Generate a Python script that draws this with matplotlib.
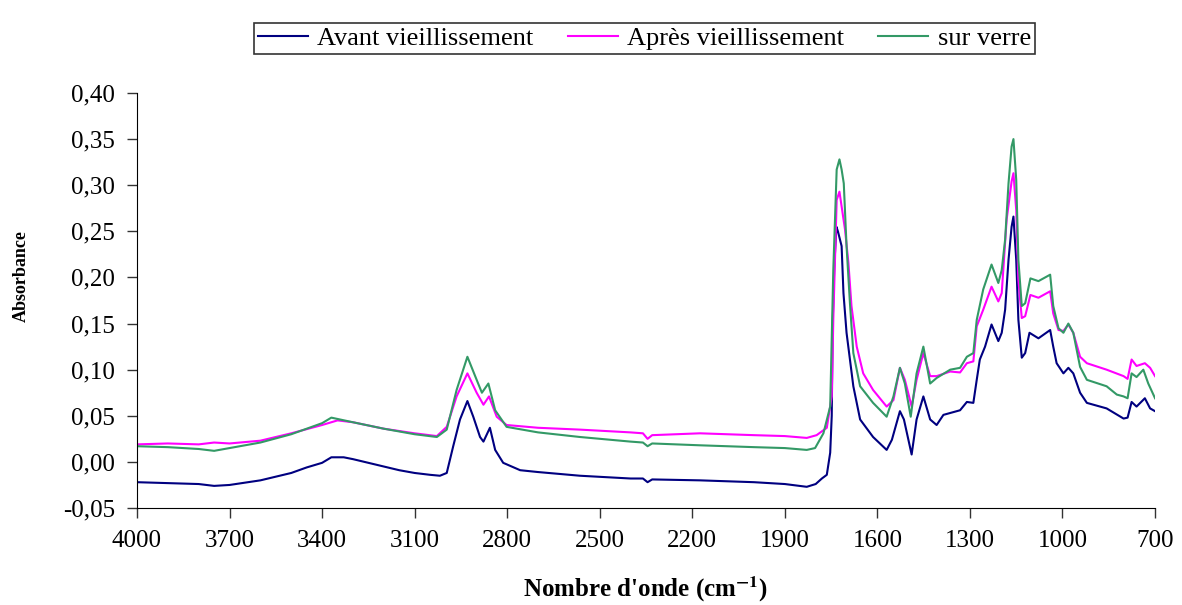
import matplotlib
matplotlib.use("Agg")
import matplotlib.pyplot as plt
from matplotlib.ticker import FuncFormatter

plt.rcParams['font.family'] = ['Liberation Serif', 'DejaVu Serif']
plt.rcParams['mathtext.fontset'] = 'stix'

# (wavenumber cm-1, absorbance)
avant = [
    (4000, -0.022), (3900, -0.023), (3800, -0.024), (3750, -0.026), (3700, -0.025),
    (3600, -0.020), (3500, -0.012), (3450, -0.006), (3400, -0.001), (3370, 0.005),
    (3330, 0.005), (3300, 0.003), (3250, -0.001), (3200, -0.005), (3150, -0.009),
    (3100, -0.012), (3050, -0.014), (3018, -0.015), (2996, -0.012), (2975, 0.017),
    (2953, 0.046), (2929, 0.066), (2910, 0.049), (2888, 0.027), (2877, 0.022),
    (2856, 0.037), (2839, 0.013), (2813, -0.001), (2758, -0.009), (2700, -0.011),
    (2564, -0.015), (2400, -0.018), (2360, -0.018), (2345, -0.022), (2330, -0.019),
    (2175, -0.020), (2000, -0.022), (1900, -0.024), (1829, -0.027), (1800, -0.024),
    (1780, -0.018), (1764, -0.014), (1753, 0.010), (1748, 0.050), (1745, 0.150),
    (1740, 0.210), (1733, 0.255), (1728, 0.250), (1716, 0.234), (1710, 0.183),
    (1700, 0.140), (1678, 0.082), (1656, 0.046), (1614, 0.027), (1570, 0.013),
    (1553, 0.024), (1527, 0.055), (1514, 0.046), (1489, 0.008), (1473, 0.046),
    (1451, 0.071), (1429, 0.046), (1408, 0.040), (1386, 0.051), (1332, 0.056),
    (1310, 0.065), (1289, 0.064), (1278, 0.089), (1268, 0.111), (1251, 0.125),
    (1230, 0.149), (1208, 0.131), (1197, 0.140), (1186, 0.165), (1175, 0.219),
    (1165, 0.255), (1159, 0.266), (1150, 0.219), (1143, 0.154), (1132, 0.113),
    (1121, 0.118), (1107, 0.140), (1078, 0.134), (1040, 0.143), (1030, 0.125),
    (1019, 0.107), (997, 0.096), (981, 0.102), (965, 0.096), (943, 0.075),
    (921, 0.064), (857, 0.058), (802, 0.047), (789, 0.048), (776, 0.065),
    (760, 0.060), (733, 0.069), (716, 0.058), (700, 0.055),
]

apres = [
    (4000, 0.019), (3900, 0.020), (3800, 0.019), (3750, 0.021), (3700, 0.020),
    (3600, 0.023), (3500, 0.031), (3400, 0.040), (3350, 0.045), (3300, 0.043),
    (3200, 0.036), (3100, 0.031), (3028, 0.028), (2996, 0.038), (2964, 0.071),
    (2929, 0.096), (2899, 0.075), (2877, 0.062), (2859, 0.071), (2834, 0.049),
    (2802, 0.040), (2700, 0.037), (2564, 0.035), (2400, 0.032), (2360, 0.031),
    (2345, 0.025), (2330, 0.029), (2175, 0.031), (2000, 0.029), (1900, 0.028),
    (1829, 0.026), (1797, 0.029), (1764, 0.037), (1748, 0.071), (1743, 0.154),
    (1732, 0.284), (1723, 0.293), (1716, 0.277), (1705, 0.252), (1694, 0.216),
    (1684, 0.169), (1667, 0.125), (1646, 0.096), (1614, 0.078), (1570, 0.060),
    (1548, 0.067), (1527, 0.102), (1511, 0.089), (1489, 0.060), (1473, 0.089),
    (1451, 0.118), (1429, 0.093), (1408, 0.093), (1364, 0.098), (1332, 0.097),
    (1310, 0.107), (1289, 0.109), (1278, 0.147), (1257, 0.165), (1230, 0.190),
    (1208, 0.174), (1197, 0.183), (1181, 0.263), (1165, 0.304), (1159, 0.313),
    (1150, 0.273), (1143, 0.197), (1132, 0.156), (1121, 0.158), (1104, 0.181),
    (1078, 0.178), (1040, 0.185), (1030, 0.161), (1013, 0.143), (997, 0.142),
    (981, 0.149), (965, 0.140), (943, 0.114), (921, 0.107), (857, 0.100),
    (802, 0.093), (789, 0.090), (776, 0.111), (760, 0.104), (733, 0.107),
    (716, 0.102), (700, 0.093),
]

verre = [
    (4000, 0.017), (3900, 0.016), (3800, 0.014), (3750, 0.012), (3700, 0.015),
    (3600, 0.021), (3500, 0.030), (3400, 0.042), (3370, 0.048), (3300, 0.043),
    (3200, 0.036), (3100, 0.030), (3028, 0.027), (2996, 0.035), (2964, 0.078),
    (2929, 0.114), (2899, 0.089), (2882, 0.075), (2861, 0.085), (2839, 0.056),
    (2802, 0.038), (2700, 0.032), (2564, 0.027), (2400, 0.022), (2360, 0.021),
    (2345, 0.017), (2330, 0.020), (2175, 0.018), (2000, 0.016), (1900, 0.015),
    (1829, 0.013), (1802, 0.015), (1775, 0.031), (1753, 0.060), (1743, 0.208),
    (1732, 0.317), (1723, 0.328), (1716, 0.317), (1709, 0.302), (1700, 0.234),
    (1689, 0.172), (1678, 0.118), (1656, 0.082), (1614, 0.064), (1570, 0.049),
    (1548, 0.071), (1527, 0.102), (1511, 0.085), (1492, 0.049), (1473, 0.096),
    (1451, 0.125), (1429, 0.085), (1408, 0.091), (1364, 0.100), (1332, 0.102),
    (1310, 0.114), (1289, 0.118), (1278, 0.154), (1257, 0.187), (1230, 0.214),
    (1208, 0.194), (1197, 0.208), (1186, 0.241), (1175, 0.302), (1165, 0.342),
    (1159, 0.350), (1150, 0.306), (1143, 0.219), (1132, 0.169), (1121, 0.172),
    (1104, 0.199), (1078, 0.196), (1040, 0.203), (1030, 0.169), (1013, 0.145),
    (997, 0.140), (981, 0.150), (965, 0.140), (943, 0.103), (921, 0.089),
    (857, 0.082), (824, 0.073), (802, 0.071), (789, 0.069), (776, 0.096),
    (760, 0.092), (738, 0.100), (722, 0.085), (700, 0.069),
]

labels = ['Avant vieillissement', 'Après vieillissement', 'sur verre']
colors = ['#000080', '#FF00FF', '#339966']
x_ticks = list(range(4000, 699, -300))
y_ticks = [-0.05, 0.0, 0.05, 0.10, 0.15, 0.20, 0.25, 0.30, 0.35, 0.40]

fig = plt.figure(figsize=(11.82, 6.05), dpi=100)
ax = fig.add_axes([0.1159, 0.1603, 0.8613, 0.686])

for series, lab, col in zip([avant, apres, verre], labels, colors):
    wn, ab = zip(*series)
    ax.plot(wn, ab, color=col, lw=1.5, label=lab)

ax.set_xlim(4000, 700)
ax.set_ylim(-0.05, 0.40)
ax.set_xticks(x_ticks)
ax.set_yticks(y_ticks)
ax.yaxis.set_major_formatter(FuncFormatter(lambda v, p: f"{v:.2f}".replace('.', ',')))
ax.tick_params(labelsize=18, length=7, width=1, direction='out', color='#333333', pad=9)
ax.spines['top'].set_visible(False)
ax.spines['right'].set_visible(False)

ax.set_xlabel("Nombre d'onde (cm$^{\\mathbf{-1}}$)", fontsize=18, fontweight='bold')
ax.xaxis.set_label_coords(0.5, -0.16)
ax.set_ylabel('Absorbance', fontsize=13, fontweight='bold')
ax.yaxis.set_label_coords(-0.105, 0.56)

leg = fig.legend(loc='center', bbox_to_anchor=(0.545, 0.936), ncol=3, fontsize=19,
                 frameon=True, fancybox=False, edgecolor='black', handlelength=1.9,
                 columnspacing=1.3, handletextpad=0.35, borderpad=0.15, borderaxespad=0)
leg.get_frame().set_linewidth(1.2)

fig.savefig('out.png', dpi=100)
